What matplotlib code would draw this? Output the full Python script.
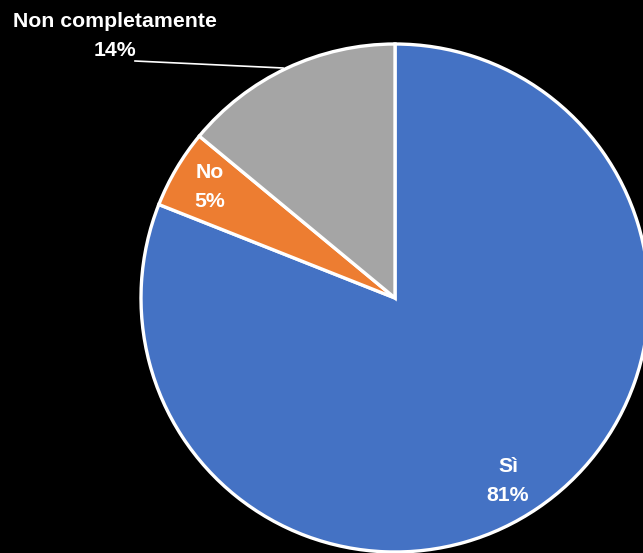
import matplotlib.pyplot as plt

# Data
labels = ['Sì', 'No', 'Non completamente']
values = [81, 5, 14]
colors = ['#4472C4', '#ED7D31', '#A5A5A5']

W, H = 643, 553
fig = plt.figure(figsize=(W / 100, H / 100), dpi=100, facecolor='black')
ax = fig.add_axes([0, 0, 1, 1])
ax.set_facecolor('black')

# pie in pixel coordinates (y up)
cx, cy, r = 395, H - 298, 254
ax.pie(values, colors=colors, startangle=90, counterclock=False,
       center=(cx, cy), radius=r,
       wedgeprops=dict(edgecolor='white', linewidth=2.4))
ax.set_xlim(0, W)
ax.set_ylim(0, H)
ax.set_aspect('equal')
ax.axis('off')

font = dict(color='white', fontweight='bold', family='Liberation Sans',
            fontsize=15.3, ha='center', va='center', linespacing=1.65)

ax.text(508, H - 481, f'{labels[0]}\n{values[0]}%', **font)
ax.text(210, H - 187, f'{labels[1]}\n{values[1]}%', **font)
ax.text(115, H - 36, f'{labels[2]}\n{values[2]}%', **font)

# leader line for the grey slice
ax.plot([135, 283], [H - 61, H - 68], color='white', linewidth=1.2)

fig.savefig('out.png', dpi=100, facecolor='black')
